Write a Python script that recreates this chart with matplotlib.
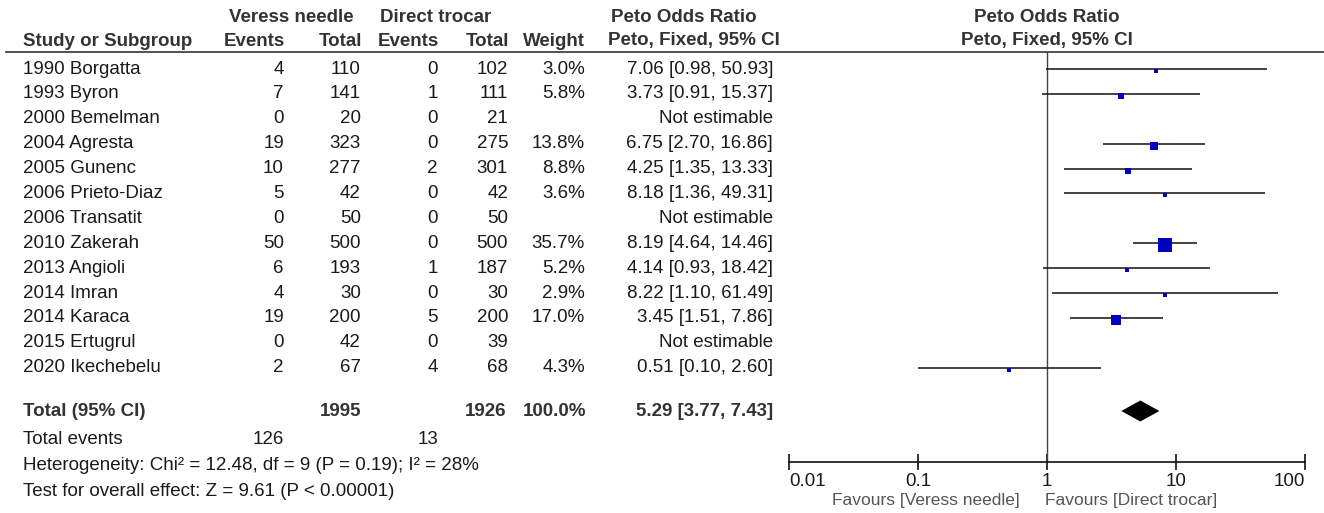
import matplotlib.pyplot as plt
from matplotlib.lines import Line2D
import numpy as np

plt.rcParams['font.family'] = ['Liberation Sans', 'DejaVu Sans']

studies = ['1990 Borgatta', '1993 Byron', '2000 Bemelman', '2004 Agresta', '2005 Gunenc',
           '2006 Prieto-Diaz', '2006 Transatit', '2010 Zakerah', '2013 Angioli', '2014 Imran',
           '2014 Karaca', '2015 Ertugrul', '2020 Ikechebelu']
veress_events = [4, 7, 0, 19, 10, 5, 0, 50, 6, 4, 19, 0, 2]
veress_total = [110, 141, 20, 323, 277, 42, 50, 500, 193, 30, 200, 42, 67]
direct_events = [0, 1, 0, 0, 2, 0, 0, 0, 1, 0, 5, 0, 4]
direct_total = [102, 111, 21, 275, 301, 42, 50, 500, 187, 30, 200, 39, 68]
weights = [3.0, 5.8, None, 13.8, 8.8, 3.6, None, 35.7, 5.2, 2.9, 17.0, None, 4.3]
odds = [7.06, 3.73, None, 6.75, 4.25, 8.18, None, 8.19, 4.14, 8.22, 3.45, None, 0.51]
ci_low = [0.98, 0.91, None, 2.70, 1.35, 1.36, None, 4.64, 0.93, 1.10, 1.51, None, 0.10]
ci_high = [50.93, 15.37, None, 16.86, 13.33, 49.31, None, 14.46, 18.42, 61.49, 7.86, None, 2.60]

total_or, total_lo, total_hi = 5.29, 3.77, 7.43
total_n = [1995, 1926]
total_events = [126, 13]

W, H = 1324, 513
fig = plt.figure(figsize=(W / 100, H / 100), dpi=100)

def fx(x):
    return x / W

def fy(y):
    return 1 - y / H

row_y0, row_dy = 69, 24.9
def row_px(i):
    return row_y0 + row_dy * i

fs = 13.5
txt = '#1a1a1a'
hdr = '#333333'

# column right edges (px)
c_name, c_ve, c_vt, c_de, c_dt, c_w, c_ci = 23, 284, 361, 438, 508, 585, 773

# headers
fig.text(fx(229), fy(17), 'Veress needle', ha='left', va='center', fontsize=fs, weight='bold', color=hdr)
fig.text(fx(380), fy(17), 'Direct trocar', ha='left', va='center', fontsize=fs, weight='bold', color=hdr)
fig.text(fx(611), fy(17), 'Peto Odds Ratio', ha='left', va='center', fontsize=fs, weight='bold', color=hdr)
fig.text(fx(1047), fy(17), 'Peto Odds Ratio', ha='center', va='center', fontsize=fs, weight='bold', color=hdr)
fig.text(fx(1047), fy(41), 'Peto, Fixed, 95% CI', ha='center', va='center', fontsize=fs, weight='bold', color=hdr)
fig.text(fx(c_name), fy(41), 'Study or Subgroup', ha='left', va='center', fontsize=fs, weight='bold', color=hdr)
for x, s in [(c_ve + 1, 'Events'), (c_vt + 1, 'Total'), (c_de + 1, 'Events'), (c_dt + 1, 'Total'),
             (c_w, 'Weight'), (780, 'Peto, Fixed, 95% CI')]:
    fig.text(fx(x), fy(41), s, ha='right', va='center', fontsize=fs, weight='bold', color=hdr)

fig.add_artist(Line2D([fx(6), fx(1324)], [fy(52), fy(52)], color=hdr, lw=1.2))

# study rows
for i, name in enumerate(studies):
    y = fy(row_px(i))
    fig.text(fx(c_name), y, name, ha='left', va='center', fontsize=fs, color=txt)
    fig.text(fx(c_ve), y, str(veress_events[i]), ha='right', va='center', fontsize=fs, color=txt)
    fig.text(fx(c_vt), y, str(veress_total[i]), ha='right', va='center', fontsize=fs, color=txt)
    fig.text(fx(c_de), y, str(direct_events[i]), ha='right', va='center', fontsize=fs, color=txt)
    fig.text(fx(c_dt), y, str(direct_total[i]), ha='right', va='center', fontsize=fs, color=txt)
    if weights[i] is not None:
        fig.text(fx(c_w), y, f'{weights[i]:.1f}%', ha='right', va='center', fontsize=fs, color=txt)
        s = f'{odds[i]:.2f} [{ci_low[i]:.2f}, {ci_high[i]:.2f}]'
    else:
        s = 'Not estimable'
    fig.text(fx(c_ci), y, s, ha='right', va='center', fontsize=fs, color=txt)

# total rows
yt = fy(411)
fig.text(fx(c_name), yt, 'Total (95% CI)', ha='left', va='center', fontsize=fs, weight='bold', color=hdr)
fig.text(fx(c_vt), yt, str(total_n[0]), ha='right', va='center', fontsize=fs, weight='bold', color=hdr)
fig.text(fx(c_dt - 2), yt, str(total_n[1]), ha='right', va='center', fontsize=fs, weight='bold', color=hdr)
fig.text(fx(c_w + 1), yt, '100.0%', ha='right', va='center', fontsize=fs, weight='bold', color=hdr)
fig.text(fx(c_ci), yt, f'{total_or:.2f} [{total_lo:.2f}, {total_hi:.2f}]', ha='right', va='center',
         fontsize=fs, weight='bold', color=hdr)
ye = fy(440)
fig.text(fx(c_name), ye, 'Total events', ha='left', va='center', fontsize=fs, color=txt)
fig.text(fx(c_ve), ye, str(total_events[0]), ha='right', va='center', fontsize=fs, color=txt)
fig.text(fx(c_de), ye, str(total_events[1]), ha='right', va='center', fontsize=fs, color=txt)
fig.text(fx(c_name), fy(466), 'Heterogeneity: Chi² = 12.48, df = 9 (P = 0.19); I² = 28%',
         ha='left', va='center', fontsize=fs, color=txt)
fig.text(fx(c_name), fy(492), 'Test for overall effect: Z = 9.61 (P < 0.00001)',
         ha='left', va='center', fontsize=fs, color=txt)

# forest axes
ax_l, ax_r, ax_t, ax_b = 789, 1305, 52, 462
ax = fig.add_axes([fx(ax_l), fy(ax_b), (ax_r - ax_l) / W, (ax_b - ax_t) / H])
ax.set_xscale('log')
ax.set_xlim(0.01, 100)
ax.set_ylim((ax_b - row_y0) / row_dy, (ax_t - row_y0) / row_dy)
for s in ['top', 'left', 'right']:
    ax.spines[s].set_visible(False)
ax.spines['bottom'].set_color('#111111')
ax.spines['bottom'].set_linewidth(1.2)
ax.set_yticks([])
ax.set_xticks([0.01, 0.1, 1, 10, 100])
ax.set_xticklabels(['0.01', '0.1', '1', '10', '100'])
ax.xaxis.set_minor_locator(plt.NullLocator())
ax.tick_params(axis='x', direction='inout', length=12, width=1.2, color='#111111',
               labelsize=fs, labelcolor=txt, pad=2)
labels = ax.get_xticklabels()
labels[0].set_ha('left')
labels[-1].set_ha('right')
ax.axvline(1, color='#444444', lw=1.0)

max_w = max(w for w in weights if w is not None)
for i in range(len(studies)):
    if odds[i] is None:
        continue
    ax.plot([ci_low[i], ci_high[i]], [i, i], color='#222222', lw=1.2, solid_capstyle='butt')
    ms = 9.4 * np.sqrt(weights[i] / max_w)
    ax.plot(odds[i], i + 0.08, marker='s', ms=ms, color='#0000C0', mec='#0000C0', mew=0, ls='none')

ti = (411 - row_y0) / row_dy
h = 10.5 / row_dy
ax.fill([total_lo, total_or, total_hi, total_or], [ti, ti - h, ti, ti + h], color='black', lw=0)

fig.text(fx(1020), fy(500), 'Favours [Veress needle]', ha='right', va='center', fontsize=12.5, color='#555555')
fig.text(fx(1045), fy(500), 'Favours [Direct trocar]', ha='left', va='center', fontsize=12.5, color='#555555')

fig.savefig('out.png', dpi=100)
